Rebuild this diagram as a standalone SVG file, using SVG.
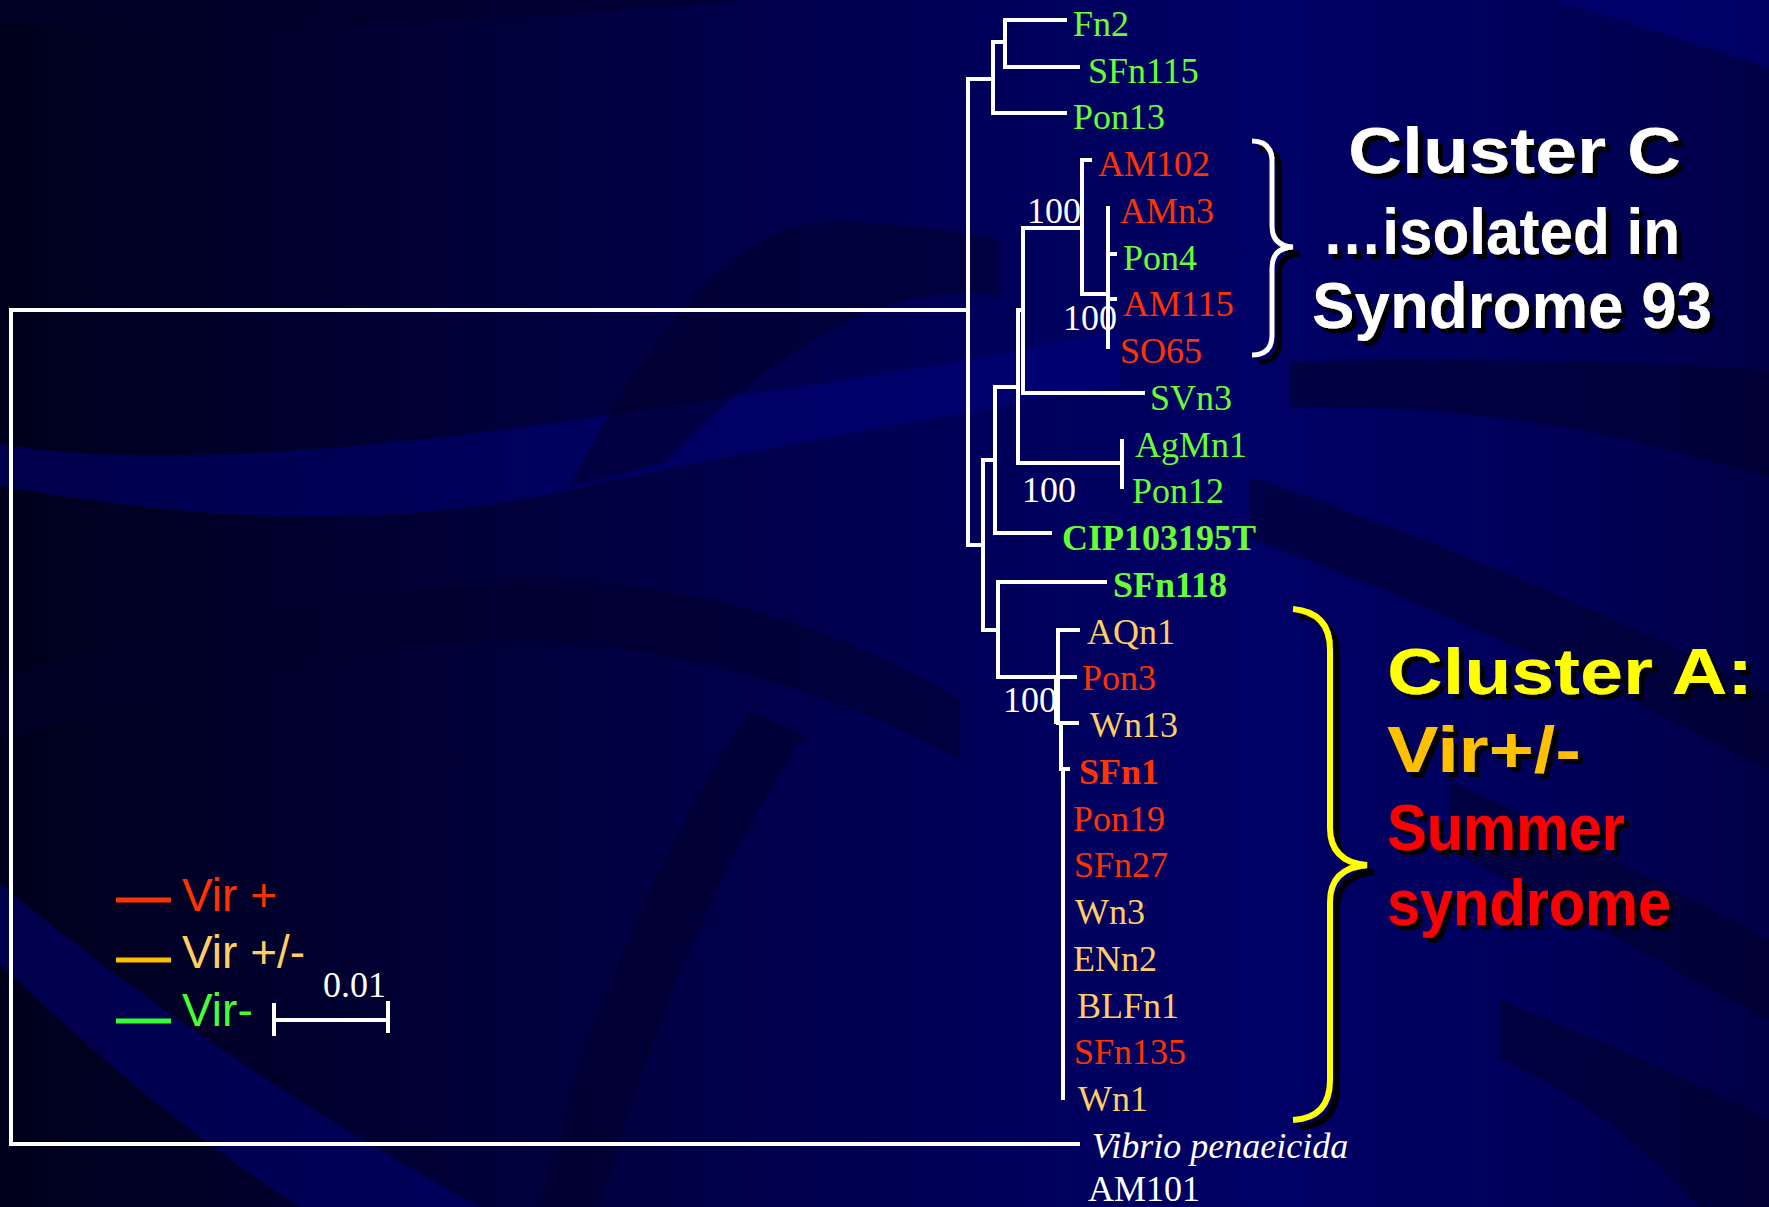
<svg xmlns="http://www.w3.org/2000/svg" width="1769" height="1207" viewBox="0 0 1769 1207">
<defs>
<linearGradient id="bg" x1="0" y1="0" x2="1" y2="0">
<stop offset="0" stop-color="#00001c"/>
<stop offset="0.3" stop-color="#00003c"/>
<stop offset="0.55" stop-color="#00005a"/>
<stop offset="0.72" stop-color="#000066"/>
<stop offset="0.88" stop-color="#00005a"/>
<stop offset="1" stop-color="#000046"/>
</linearGradient>
<filter id="shadow" x="-10%" y="-10%" width="130%" height="130%">
<feDropShadow dx="5" dy="5" stdDeviation="0.6" flood-color="#000" flood-opacity="1"/>
</filter>
<filter id="shadow2" x="-20%" y="-10%" width="160%" height="130%">
<feDropShadow dx="7" dy="7" stdDeviation="0.6" flood-color="#000" flood-opacity="1"/>
</filter>
<style>
.br{stroke:#fff;stroke-width:4;fill:none;stroke-linecap:square}
.lbl{font-family:"Liberation Serif","Times New Roman",serif;font-size:36px}
.g{fill:#66ff33}.r{fill:#ff3300}.o{fill:#ffcc66}.w{fill:#fff}
.b{font-weight:bold}
.lg{font-family:"Liberation Sans",Arial,sans-serif;font-size:46px}
.big{font-family:"Liberation Sans",Arial,sans-serif;font-weight:700;font-size:64px}
.dk{fill:#00002a;opacity:0.55}
.lt{fill:#000088;opacity:0.45}
.brace{fill:none;filter:url(#shadow2)}
</style>
</defs>
<g id="background">
<rect width="1769" height="1207" fill="url(#bg)"/>
<path class="dk" d="M0,0 L741,0 Q420,32 0,25 Z"/>
<path class="lt" d="M0,444 Q184,475 570,421 L960,362 L1120,330 L1120,385 L960,413 Q667,467 570,490 Q325,545 0,486 Z"/>
<path class="dk" d="M570,486 Q700,228 827,222 Q900,220 1000,240 L1000,296 Q850,270 664,463 Z"/>
<path class="dk" d="M0,676 Q300,590 520,580 Q760,580 960,700 L960,760 Q760,650 520,640 Q300,650 0,740 Z"/>
<path class="lt" d="M0,884 C120,980 250,1080 480,1207 L300,1207 C180,1130 80,1040 0,965 Z"/>
<path class="dk" d="M750,712 Q620,900 540,1207 L600,1207 Q680,920 805,735 Z"/>
<path class="lt" d="M1557,0 L1769,0 L1769,68 Q1650,30 1557,0 Z"/>
<path class="dk" d="M1290,362 Q1500,355 1769,370 L1769,477 Q1520,400 1290,408 Z"/>
<path class="dk" d="M1250,477 Q1500,560 1769,693 L1769,770 Q1500,630 1250,539 Z"/>
<path class="dk" d="M1450,780 Q1620,860 1769,940 L1769,1020 Q1620,940 1450,850 Z"/>
<path class="dk" d="M1500,1000 Q1650,1060 1769,1120 L1769,1207 L1700,1207 Q1600,1100 1500,1060 Z"/>
</g>
<g id="connectors">
<path class="br" d="M11,310 V1144 M11,310 H968 M11,1144 H1078"/>
<path class="br" d="M968,79 V545 M968,79 H993 M993,42 V113 M993,42 H1005 M1005,20 V67 M1005,20 H1065 M1005,67 H1078 M993,113 H1065"/>
<path class="br" d="M968,545 H983 M983,460 V630 M983,460 H995 M995,387 V533 M995,533 H1050"/>
<path class="br" d="M995,387 H1018 M1018,310 V463 M1018,463 H1122 M1122,441 V487"/>
<path class="br" d="M1018,310 H1023 M1023,228 V393 M1023,393 H1143"/>
<path class="br" d="M1023,228 H1082 M1082,160 V294 M1082,160 H1090 M1082,294 H1108 M1108,208 V347 M1108,254 H1115 M1108,299 H1115"/>
<path class="br" d="M983,630 H998 M998,582 V677 M998,582 H1105 M998,677 H1058"/>
<path class="br" d="M1058,630 V722 M1056,677 V722 M1058,630 H1078 M1058,677 H1075 M1058,723 H1077 M1061,723 V769 M1063,769 V1098 M1063,769 H1068"/>
<path class="br" d="M274,1020 H388 M274,1005 V1034 M388,1003 V1031"/>
</g>
<g id="bootstrap" class="lbl w">
<text x="1027" y="223">100</text>
<text x="1063" y="330">100</text>
<text x="1022" y="502">100</text>
<text x="1003" y="712">100</text>
</g>
<g id="leaves" class="lbl">
<g id="leaf-Fn2"><text class="g" x="1073" y="36">Fn2</text></g>
<g id="leaf-SFn115"><text class="g" x="1088" y="83">SFn115</text></g>
<g id="leaf-Pon13"><text class="g" x="1073" y="129">Pon13</text></g>
<g id="leaf-AM102"><text class="r" x="1098" y="176">AM102</text></g>
<g id="leaf-AMn3"><text class="r" x="1120" y="223">AMn3</text></g>
<g id="leaf-Pon4"><text class="g" x="1123" y="270">Pon4</text></g>
<g id="leaf-AM115"><text class="r" x="1123" y="316">AM115</text></g>
<g id="leaf-SO65"><text class="r" x="1120" y="363">SO65</text></g>
<g id="leaf-SVn3"><text class="g" x="1150" y="410">SVn3</text></g>
<g id="leaf-AgMn1"><text class="g" x="1135" y="457">AgMn1</text></g>
<g id="leaf-Pon12"><text class="g" x="1132" y="503">Pon12</text></g>
<g id="leaf-CIP103195T"><text class="g b" x="1062" y="550">CIP103195T</text></g>
<g id="leaf-SFn118"><text class="g b" x="1113" y="597">SFn118</text></g>
<g id="leaf-AQn1"><text class="o" x="1087" y="644">AQn1</text></g>
<g id="leaf-Pon3"><text class="r" x="1082" y="690">Pon3</text></g>
<g id="leaf-Wn13"><text class="o" x="1090" y="737">Wn13</text></g>
<g id="leaf-SFn1"><text class="r b" x="1079" y="784">SFn1</text></g>
<g id="leaf-Pon19"><text class="r" x="1073" y="831">Pon19</text></g>
<g id="leaf-SFn27"><text class="r" x="1074" y="877">SFn27</text></g>
<g id="leaf-Wn3"><text class="o" x="1075" y="924">Wn3</text></g>
<g id="leaf-ENn2"><text class="o" x="1073" y="971">ENn2</text></g>
<g id="leaf-BLFn1"><text class="o" x="1077" y="1018">BLFn1</text></g>
<g id="leaf-SFn135"><text class="r" x="1074" y="1064">SFn135</text></g>
<g id="leaf-Wn1"><text class="o" x="1078" y="1111">Wn1</text></g>
<g id="leaf-Vibrio"><text class="w" x="1092" y="1158" font-style="italic">Vibrio penaeicida</text><text class="w" x="1088" y="1201">AM101</text></g>
</g>
<g id="cluster-C">
<path class="brace" d="M1252,141 Q1272,141 1272,162 V226 Q1272,246 1293,247 Q1272,248 1272,268 V335 Q1272,355 1252,355" stroke="#fff" stroke-width="5"/>
<g class="big" fill="#fff" filter="url(#shadow)">
<text x="1348" y="173" textLength="333" lengthAdjust="spacingAndGlyphs">Cluster C</text>
<text x="1322" y="254" textLength="358" lengthAdjust="spacingAndGlyphs">…isolated in</text>
<text x="1312" y="328" textLength="400" lengthAdjust="spacingAndGlyphs">Syndrome 93</text>
</g>
</g>
<g id="cluster-A">
<path class="brace" d="M1293,609 Q1330,612 1330,650 V828 Q1330,862 1367,865 Q1330,868 1330,902 V1080 Q1330,1118 1293,1120" stroke="#ffff00" stroke-width="6"/>
<g class="big" filter="url(#shadow)">
<text fill="#ffff00" x="1387" y="694" textLength="366" lengthAdjust="spacingAndGlyphs">Cluster A:</text>
<text fill="#ffc000" x="1387" y="772" textLength="194" lengthAdjust="spacingAndGlyphs">Vir+/-</text>
<text fill="#ff0000" x="1387" y="850" textLength="238" lengthAdjust="spacingAndGlyphs">Summer</text>
<text fill="#ff0000" x="1387" y="925" textLength="284" lengthAdjust="spacingAndGlyphs">syndrome</text>
</g>
</g>
<g id="legend">
<path d="M116,900 H171" stroke="#ff3300" stroke-width="5"/>
<path d="M116,960 H171" stroke="#ffc000" stroke-width="5"/>
<path d="M116,1021 H171" stroke="#33ff33" stroke-width="5"/>
<text class="lg" x="182" y="911" fill="#ff3300">Vir +</text>
<text class="lg" x="182" y="968" fill="#ffcc66">Vir +/-</text>
<text class="lg" x="182" y="1026" fill="#44ff33">Vir-</text>
<text class="lbl w" x="323" y="997">0.01</text>
</g>
</svg>
